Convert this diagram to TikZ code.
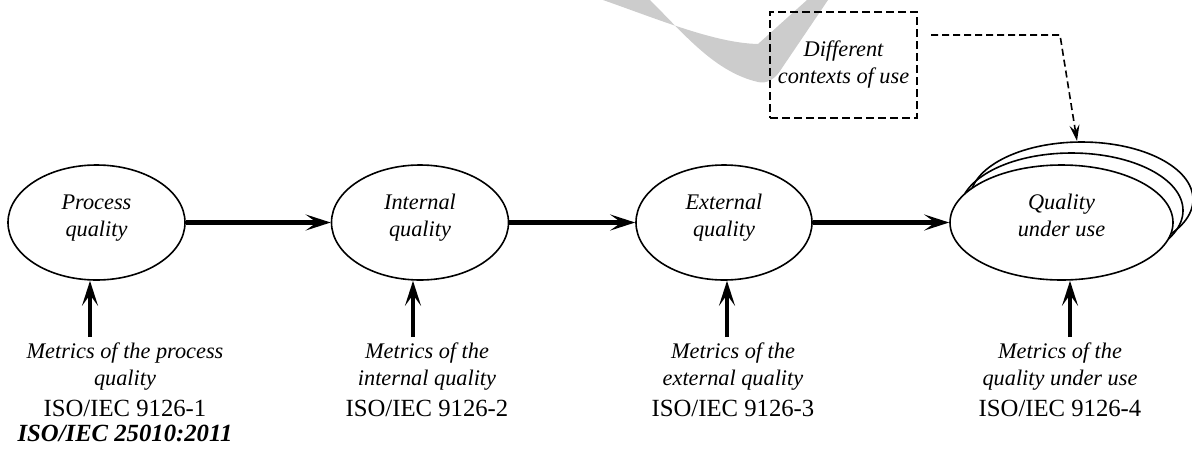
\documentclass[tikz,border=0pt]{standalone}
\usepackage{fontspec}
\setmainfont{Liberation Serif}
\usetikzlibrary{shapes.geometric,arrows.meta}
\begin{document}
\begin{tikzpicture}[x=1pt,y=-1pt,
  qual/.style={ellipse,draw,line width=1.6pt,fill=white,inner sep=0pt,align=center,minimum height=115pt,
    text depth=14pt,font=\fontsize{22.3}{27}\selectfont\itshape},
  backell/.style={ellipse,draw,line width=1.6pt,inner sep=0pt,minimum width=223pt,minimum height=115pt},
  flow/.style={line width=4.3pt,-{Stealth[length=25pt,width=16pt,inset=11pt]}},
  label/.style={anchor=north,align=center,inner sep=0pt,font=\fontsize{22.3}{27}\selectfont},
  ctxbox/.style={draw,dash pattern=on 8pt off 4pt,line width=1.8pt,minimum width=147pt,minimum height=106pt,
    align=center,inner sep=0pt,font=\fontsize{22.3}{27}\selectfont\itshape},
  ctxline/.style={line width=1.6pt,dash pattern=on 7pt off 4pt,-{Stealth[length=16pt,width=10pt,inset=6pt]}}
]
\useasboundingbox (0,0) rectangle (1192,448);
% watermark swoosh
\fill[black!20] (603,0) .. controls (660,20) and (715,43) .. (758,44) -- (807,0) -- (828,0) -- (782,68)
  .. controls (775,80) and (766,84) .. (758,82) .. controls (715,72) and (685,35) .. (650,0) -- cycle;
% ellipses
\node[backell] (b3) at (1081.5,199.5) {};
\node[backell] (b2) at (1071.5,210.5) {};
\node[qual,minimum width=177pt] (pq) at (96.5,222.5) {Process\\quality};
\node[qual,minimum width=177pt] (iq) at (420,222.5) {Internal\\quality};
\node[qual,minimum width=176pt] (eq) at (724,222.5) {External\\quality};
\node[qual,minimum width=223pt] (uq) at (1061.5,222.5) {Quality\\under use};
% flow arrows
\draw[flow] (pq.east) -- (iq.west);
\draw[flow] (iq.east) -- (eq.west);
\draw[flow] (eq.east) -- (uq.west);
% labels
\node[label] (l1) at (125,342.5) {\itshape Metrics of the process\\\itshape quality\\[4pt]
  \fontsize{24.7}{27}\selectfont ISO/IEC 9126-1\\[-2pt]\fontsize{24.7}{27}\selectfont\bfseries\itshape ISO/IEC 25010:2011};
\node[label] (l2) at (427,342.5) {\itshape Metrics of the\\\itshape internal quality\\[4pt]
  \fontsize{24.7}{27}\selectfont ISO/IEC 9126-2};
\node[label] (l3) at (733,342.5) {\itshape Metrics of the\\\itshape external quality\\[4pt]
  \fontsize{24.7}{27}\selectfont ISO/IEC 9126-3};
\node[label] (l4) at (1060,342.5) {\itshape Metrics of the\\\itshape quality under use\\[4pt]
  \fontsize{24.7}{27}\selectfont ISO/IEC 9126-4};
% metric arrows
\coordinate (a1) at (90,337);
\coordinate (a2) at (413,337);
\coordinate (a3) at (727,337);
\coordinate (a4) at (1070,337);
\draw[flow] (a1) -- (a1 |- pq.south);
\draw[flow] (a2) -- (a2 |- iq.south);
\draw[flow] (a3) -- (a3 |- eq.south);
\draw[flow] (a4) -- (a4 |- uq.south);
% contexts box
\node[ctxbox] (ctx) at (843.5,65) {Different\\contexts of use};
\coordinate (c0) at (931,35);
\coordinate (c1) at (1060,35);
\coordinate (c2) at (1077,141);
\draw[ctxline] (c0) -- (c1) -- (c2);
\end{tikzpicture}
\end{document}
